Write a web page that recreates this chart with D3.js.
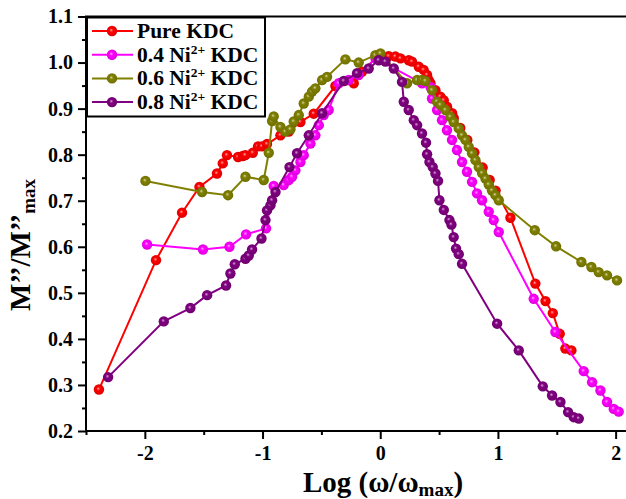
<!DOCTYPE html>
<html><head><meta charset="utf-8">
<script src="https://cdn.jsdelivr.net/npm/d3@7"></script>
<style>body{margin:0;background:#fff}svg{display:block}</style>
</head><body>
<svg id="c" width="626" height="499"></svg>
<script>
const seriesNames = ["Pure KDC", "0.4 Ni", "0.6 Ni", "0.8 Ni"];
const seriesColors = ["#ff0000", "#ff00ff", "#808000", "#800080"];

const pureX = [-2.39,-1.905,-1.684,-1.536,-1.387,-1.338,-1.302,-1.208,-1.168,-1.146,-1.083,-1.038,-1.004,-0.962,-0.848,-0.777,-0.678,-0.565,-0.381,-0.225,-0.155,-0.013,0.072,0.129,0.172,0.242,0.270,0.327,0.369,0.398,0.412,0.427,0.469,0.511,0.540,0.568,0.611,0.625,0.68,0.74,0.80,0.87,0.93,0.98,1.106,1.318,1.404,1.466,1.525,1.573,1.624];
const pureY = [0.290,0.571,0.674,0.730,0.759,0.781,0.799,0.795,0.797,0.799,0.804,0.818,0.818,0.823,0.842,0.850,0.871,0.889,0.949,0.955,0.980,1.016,1.014,1.013,1.009,1.005,1.002,0.991,0.984,0.973,0.962,0.955,0.940,0.926,0.918,0.904,0.890,0.879,0.858,0.832,0.805,0.772,0.745,0.722,0.663,0.520,0.482,0.456,0.411,0.379,0.375];

const ni04X = [-1.981,-1.506,-1.281,-1.140,-0.970,-0.905,-0.820,-0.777,-0.749,-0.721,-0.678,-0.650,-0.593,-0.551,-0.522,-0.480,-0.438,-0.352,-0.268,-0.183,-0.04,0.355,0.427,0.44,0.483,0.525,0.567,0.610,0.652,0.695,0.737,0.780,0.822,0.865,0.922,0.964,1.007,1.304,1.488,1.729,1.800,1.871,1.927,1.984,2.026];
const ni04Y = [0.605,0.594,0.600,0.627,0.640,0.732,0.734,0.745,0.752,0.766,0.784,0.799,0.824,0.842,0.864,0.886,0.897,0.955,0.962,0.973,1.009,0.955,0.947,0.922,0.897,0.875,0.853,0.832,0.810,0.784,0.763,0.741,0.716,0.701,0.676,0.658,0.632,0.487,0.415,0.330,0.306,0.288,0.263,0.248,0.242];

const ni06X = [-1.995,-1.514,-1.293,-1.145,-0.990,-0.947,-0.919,-0.905,-0.848,-0.805,-0.763,-0.735,-0.692,-0.650,-0.607,-0.579,-0.551,-0.494,-0.452,-0.296,-0.183,-0.041,0.002,0.228,0.313,0.355,0.384,0.44,0.483,0.511,0.554,0.596,0.624,0.667,0.695,0.724,0.752,0.780,0.809,0.837,0.865,0.894,0.922,0.950,0.979,1.007,1.313,1.494,1.709,1.794,1.856,1.927,2.012];
const ni06Y = [0.743,0.719,0.712,0.752,0.745,0.804,0.873,0.883,0.860,0.850,0.855,0.872,0.886,0.911,0.926,0.937,0.944,0.962,0.969,1.007,1.000,1.016,1.020,0.955,0.962,0.962,0.960,0.940,0.915,0.908,0.897,0.882,0.871,0.857,0.842,0.832,0.817,0.803,0.788,0.773,0.760,0.748,0.735,0.722,0.712,0.701,0.636,0.601,0.567,0.556,0.545,0.538,0.527];

const ni08X = [-2.312,-1.839,-1.613,-1.471,-1.310,-1.273,-1.236,-1.145,-1.117,-1.089,-1.009,-0.975,-0.962,-0.933,-0.919,-0.890,-0.771,-0.707,-0.607,-0.494,-0.310,-0.197,-0.098,-0.013,0.044,0.115,0.185,0.200,0.242,0.285,0.313,0.355,0.389,0.398,0.418,0.446,0.469,0.491,0.503,0.540,0.588,0.605,0.624,0.644,0.667,0.695,0.993,1.177,1.381,1.460,1.531,1.596,1.644,1.687];
const ni08Y = [0.317,0.438,0.467,0.495,0.516,0.542,0.562,0.574,0.581,0.594,0.618,0.658,0.679,0.690,0.701,0.719,0.773,0.803,0.842,0.890,0.960,0.977,0.987,1.005,1.002,0.987,0.958,0.915,0.897,0.875,0.864,0.846,0.826,0.801,0.784,0.773,0.759,0.743,0.701,0.680,0.658,0.648,0.621,0.596,0.584,0.563,0.433,0.375,0.297,0.277,0.263,0.241,0.230,0.227];

const xTicks = [-2,-1,0,1,2];
const xMinor = [-2.5,-1.5,-0.5,0.5,1.5];
const yTicks = [0.2,0.3,0.4,0.5,0.6,0.7,0.8,0.9,1.0,1.1];
const yMinor = [0.25,0.35,0.45,0.55,0.65,0.75,0.85,0.95,1.05];

const allX = [pureX, ni04X, ni06X, ni08X];
const allY = [pureY, ni04Y, ni06Y, ni08Y];

const svg = d3.select("#c");
const FONT = "'Liberation Serif','Times New Roman',serif";
const x = d3.scaleLinear().domain([-2.5, 2.1]).range([86, 627.4]);
const y = d3.scaleLinear().domain([0.2, 1.1]).range([431, 16.5]);

// gradients for ball markers
const defs = svg.append("defs");
seriesColors.forEach((c, i) => {
  const g = defs.append("radialGradient").attr("id", "g" + i)
    .attr("cx", "50%").attr("cy", "50%").attr("r", "60%").attr("fx", "42%").attr("fy", "40%");
  g.append("stop").attr("offset", "0%").attr("stop-color", d3.interpolateRgb(c, "#fff")(0.65));
  g.append("stop").attr("offset", "30%").attr("stop-color", c);
  g.append("stop").attr("offset", "100%").attr("stop-color", d3.color(c).darker(0.5));
});

// axes
const xAxis = d3.axisBottom(x).tickValues(xTicks).tickSize(8).tickFormat(d => d === 0 ? "0" : d3.format("d")(d));
const gx = svg.append("g").attr("transform", "translate(0,431)").call(xAxis);
const yAxis = d3.axisLeft(y).tickValues(yTicks).tickSize(8).tickFormat(d3.format(".1f"));
const gy = svg.append("g").attr("transform", "translate(86,0)").call(yAxis);
svg.append("g").attr("transform", "translate(0,431)").call(d3.axisBottom(x).tickValues(xMinor).tickSize(4).tickFormat(""));
svg.append("g").attr("transform", "translate(86,0)").call(d3.axisLeft(y).tickValues(yMinor).tickSize(4).tickFormat(""));
svg.selectAll(".domain").remove();
svg.selectAll(".tick line").attr("stroke", "#000").attr("stroke-width", 2);
[gx, gy].forEach(g => g.selectAll("text").attr("font-family", FONT).attr("font-weight", "bold").attr("font-size", 20).attr("fill", "#000"));
gx.selectAll("text").attr("dy", "0").attr("y", 29).text(d => d < 0 ? "-" + Math.abs(d) : d);
gy.selectAll("text").attr("x", -13);

// frame
svg.append("line").attr("x1", 86).attr("x2", 86).attr("y1", 16.5).attr("y2", 432).attr("stroke", "#000").attr("stroke-width", 2);
svg.append("line").attr("x1", 85).attr("x2", 627).attr("y1", 431).attr("y2", 431).attr("stroke", "#000").attr("stroke-width", 2);
svg.append("line").attr("x1", 85).attr("x2", 627).attr("y1", 16.5).attr("y2", 16.5).attr("stroke", "#000").attr("stroke-width", 2);

// series
const line = d3.line().x(d => x(d[0])).y(d => y(d[1]));
allX.forEach((xs, i) => {
  const pts = xs.map((v, j) => [v, allY[i][j]]);
  const g = svg.append("g");
  g.append("path").attr("d", line(pts)).attr("fill", "none").attr("stroke", seriesColors[i]).attr("stroke-width", 2);
  g.selectAll("circle").data(pts).join("circle")
    .attr("cx", d => x(d[0])).attr("cy", d => y(d[1])).attr("r", 5.2)
    .attr("fill", `url(#g${i})`);
});

// legend
const lg = svg.append("g");
lg.append("rect").attr("x", 87).attr("y", 17.5).attr("width", 178).attr("height", 99).attr("fill", "#fff").attr("stroke", "#000").attr("stroke-width", 2);
seriesNames.forEach((n, i) => {
  const yy = 31 + i * 23.7;
  lg.append("line").attr("x1", 92).attr("x2", 133).attr("y1", yy).attr("y2", yy).attr("stroke", seriesColors[i]).attr("stroke-width", 2);
  lg.append("circle").attr("cx", 112).attr("cy", yy).attr("r", 5.2).attr("fill", `url(#g${i})`);
  const t = lg.append("text").attr("x", 137).attr("y", yy + 7).attr("font-family", FONT).attr("font-weight", "bold").attr("font-size", 21.5).attr("fill", "#000");
  if (i === 0) t.text(n);
  else {
    t.append("tspan").text(n);
    t.append("tspan").attr("font-size", 13.5).attr("dy", -8).text("2+");
    t.append("tspan").attr("dy", 8).text(" KDC");
  }
});

// axis titles
const xt = svg.append("text").attr("x", 383).attr("y", 492).attr("text-anchor", "middle")
  .attr("font-family", FONT).attr("font-weight", "bold").attr("font-size", 29).attr("fill", "#000");
xt.append("tspan").text("Log (ω/ω");
xt.append("tspan").attr("font-size", 19).attr("dy", 4).text("max");
xt.append("tspan").attr("dy", -4).text(")");

const yt = svg.append("text").attr("transform", "translate(30,245) rotate(-90)").attr("text-anchor", "middle")
  .attr("font-family", FONT).attr("font-weight", "bold").attr("font-size", 29).attr("fill", "#000");
yt.append("tspan").text("M’’/M’’");
yt.append("tspan").attr("font-size", 19).attr("dy", 5).text("max");
</script>
</body></html>
